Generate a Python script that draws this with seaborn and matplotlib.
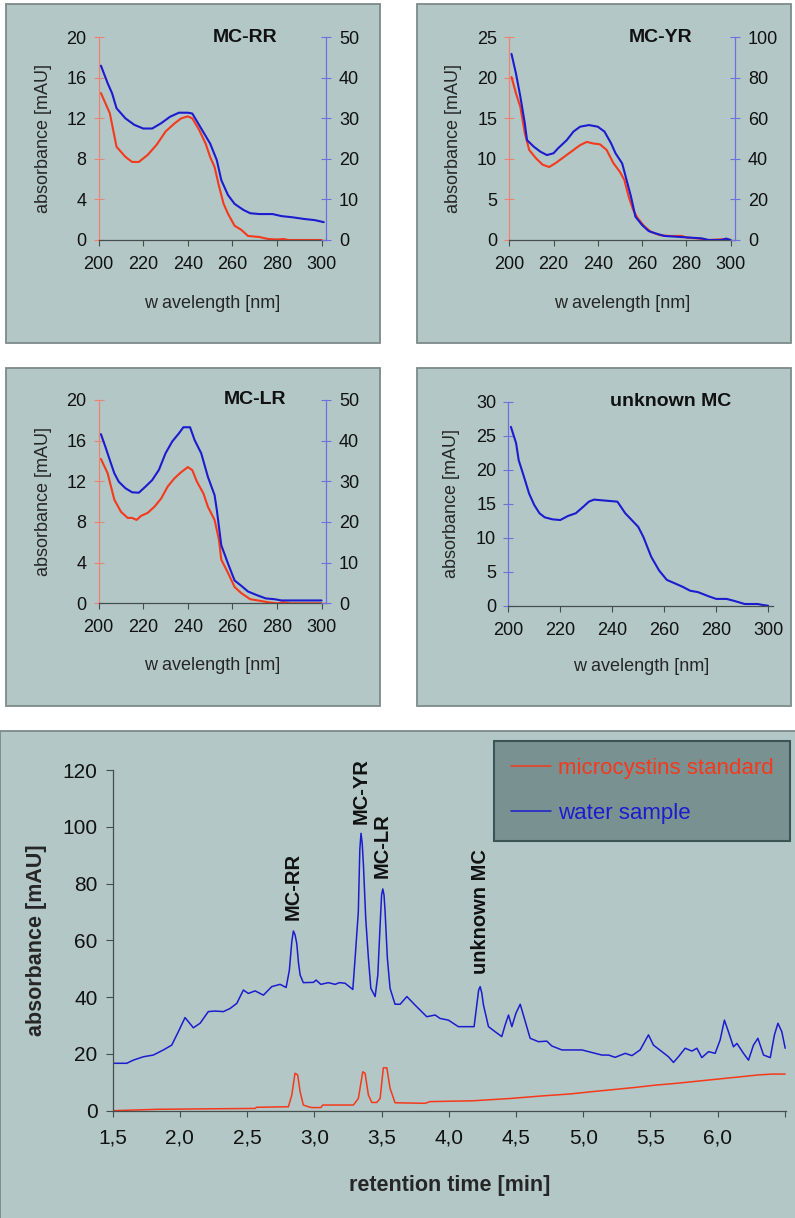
import matplotlib
matplotlib.use("Agg")
import matplotlib.pyplot as plt
from matplotlib.patches import Rectangle
from matplotlib.ticker import FixedLocator, FuncFormatter
import seaborn as sns

# ---- UV spectra (wavelength nm, absorbance mAU) ----
rr_std_wl = [201, 205, 208, 212, 215, 218, 222, 226, 230, 234, 237, 240, 242, 245, 248, 250, 252, 254, 256, 258, 261, 264, 267, 272, 276, 280, 283, 285, 300]
rr_std = [14.5, 12.5, 9.2, 8.2, 7.7, 7.7, 8.4, 9.4, 10.7, 11.5, 12.0, 12.2, 12.0, 10.9, 9.5, 8.2, 7.2, 5.3, 3.6, 2.6, 1.4, 1.0, 0.4, 0.3, 0.1, 0.05, 0.1, 0.0, 0.0]
rr_wat_wl = [201, 204, 206, 208, 212, 216, 220, 224, 228, 232, 236, 240, 242, 246, 250, 253, 255, 258, 261, 265, 268, 272, 278, 282, 287, 292, 297, 301]
rr_wat = [43.0, 38.7, 36.2, 32.5, 30.0, 28.4, 27.5, 27.5, 28.8, 30.4, 31.4, 31.4, 31.2, 27.5, 23.8, 19.7, 14.8, 11.1, 8.9, 7.4, 6.6, 6.4, 6.4, 5.9, 5.6, 5.2, 4.9, 4.4]

yr_std_wl = [201, 203, 205, 207, 209, 212, 215, 218, 221, 225, 229, 232, 235, 238, 241, 244, 247, 250, 252, 254, 256, 258, 261, 264, 268, 272, 278, 280, 285, 290, 297, 300]
yr_std = [20.1, 18.1, 16.4, 13.2, 11.1, 10.1, 9.3, 9.0, 9.5, 10.3, 11.1, 11.7, 12.1, 11.9, 11.8, 11.1, 9.5, 8.4, 7.4, 5.3, 3.7, 2.7, 1.7, 1.0, 0.6, 0.5, 0.5, 0.3, 0.2, 0.0, 0.1, 0.0]
yr_wat_wl = [201, 203, 205, 207, 208, 211, 214, 217, 220, 222, 226, 229, 232, 236, 240, 243, 246, 248, 251, 253, 255, 257, 260, 263, 266, 270, 280, 287, 290, 296, 298, 300]
yr_wat = [91.8, 82.2, 70.7, 57.6, 49.3, 46.1, 43.6, 41.9, 42.8, 45.2, 49.3, 53.5, 55.9, 56.7, 55.9, 53.5, 47.7, 42.8, 37.8, 29.6, 21.4, 11.5, 7.4, 4.4, 3.3, 2.0, 1.3, 0.8, 0.0, 0.0, 0.7, 0.0]

lr_std_wl = [201, 204, 207, 210, 213, 215, 217, 219, 222, 225, 228, 231, 234, 237, 240, 242, 244, 247, 249, 252, 254, 255, 258, 261, 264, 268, 272, 276, 280, 283, 286, 300]
lr_std = [14.2, 12.8, 10.2, 9.0, 8.4, 8.4, 8.2, 8.6, 8.9, 9.5, 10.3, 11.5, 12.3, 12.9, 13.4, 13.1, 12.0, 10.8, 9.5, 8.2, 6.2, 4.3, 3.0, 1.6, 1.0, 0.4, 0.26, 0.1, 0.0, 0.1, 0.0, 0.0]
lr_wat_wl = [201, 203, 205, 207, 209, 212, 215, 218, 221, 224, 227, 230, 233, 236, 238, 241, 243, 246, 249, 252, 253, 255, 258, 261, 264, 267, 271, 275, 279, 282, 300]
lr_wat = [41.6, 38.5, 35.2, 32.0, 29.9, 28.3, 27.3, 27.2, 28.7, 30.3, 32.8, 36.9, 39.8, 41.8, 43.3, 43.3, 40.2, 36.9, 31.1, 26.6, 23.0, 14.3, 9.8, 5.6, 4.3, 2.9, 2.0, 1.2, 1.0, 0.7, 0.7]

unk_wl = [201, 203, 204, 206, 208, 210, 212, 214, 217, 220, 223, 226, 229, 231, 233, 236, 239, 242, 245, 248, 250, 252, 255, 258, 261, 264, 267, 270, 273, 277, 280, 284, 287, 291, 296, 298, 300]
unk = [26.3, 23.9, 21.4, 19.0, 16.5, 14.8, 13.6, 13.0, 12.7, 12.6, 13.2, 13.6, 14.6, 15.3, 15.6, 15.5, 15.4, 15.3, 13.6, 12.4, 11.6, 10.1, 7.2, 5.2, 3.8, 3.3, 2.8, 2.2, 2.0, 1.4, 1.0, 1.0, 0.7, 0.25, 0.25, 0.1, 0.0]

# ---- chromatogram (retention time min, absorbance mAU) ----
water_t = [1.5, 1.604, 1.653, 1.728, 1.802, 1.877, 1.939, 1.988, 2.038, 2.1, 2.15, 2.211, 2.261, 2.323, 2.373, 2.423,
           2.472, 2.509, 2.559, 2.621, 2.683, 2.745, 2.79, 2.814, 2.832, 2.844, 2.856, 2.869, 2.882, 2.894, 2.918,
           2.993, 3.013, 3.048, 3.104, 3.154, 3.186, 3.228, 3.286, 3.303, 3.327, 3.338, 3.347, 3.356, 3.365, 3.382,
           3.402, 3.42, 3.452, 3.472, 3.489, 3.5, 3.509, 3.518, 3.526, 3.543, 3.563, 3.6, 3.638, 3.688, 3.749,
           3.836, 3.898, 3.935, 3.997, 4.071, 4.188, 4.208, 4.222, 4.233, 4.245, 4.258, 4.295, 4.345, 4.394, 4.419,
           4.444, 4.469, 4.499, 4.531, 4.562, 4.605, 4.667, 4.729, 4.766, 4.841, 4.99, 5.089, 5.138, 5.188, 5.237,
           5.312, 5.362, 5.423, 5.485, 5.522, 5.585, 5.634, 5.671, 5.708, 5.758, 5.808, 5.845, 5.882, 5.932, 5.981,
           6.018, 6.05, 6.08, 6.117, 6.143, 6.192, 6.229, 6.266, 6.299, 6.341, 6.391, 6.422, 6.448, 6.477, 6.502]
water = [16.7, 16.7, 17.8, 19.0, 19.6, 21.4, 23.1, 27.8, 32.8, 29.2, 30.8, 34.9, 35.1, 34.9, 36.0, 37.8,
         42.5, 41.3, 42.2, 40.7, 43.7, 44.5, 43.4, 49.5, 59.5, 63.3, 62.0, 58.9, 52.0, 47.8, 45.1,
         45.2, 46.0, 44.5, 45.1, 44.5, 45.1, 44.9, 42.7, 53.7, 70.1, 92.0, 97.7, 94.0, 86.5, 67.7,
         53.7, 43.1, 40.2, 47.8, 65.4, 76.0, 78.1, 76.0, 70.1, 53.7, 43.1, 37.5, 37.5, 40.2, 37.2,
         33.1, 33.7, 32.5, 31.9, 29.6, 29.6, 37.2, 42.5, 43.7, 41.5, 37.2, 29.6, 27.8, 26.1, 30.2,
         33.7, 29.6, 34.3, 37.5, 32.5, 25.5, 24.3, 24.5, 22.8, 21.4, 21.4, 20.2, 19.6, 19.6, 18.8,
         20.2, 19.4, 21.4, 26.7, 23.1, 20.8, 19.0, 17.0, 19.0, 22.0, 21.0, 22.0, 18.7, 20.8, 20.2,
         24.9, 31.9, 27.8, 22.5, 23.7, 20.2, 17.8, 23.1, 25.5, 19.6, 18.7, 26.7, 30.8, 27.8, 22.0]
std_t = [1.5, 1.839, 2.559, 2.57, 2.807, 2.832, 2.856, 2.876, 2.894, 2.918, 2.955, 2.981, 3.048, 3.063, 3.29,
         3.327, 3.36, 3.377, 3.402, 3.427, 3.464, 3.489, 3.513, 3.539, 3.563, 3.6, 3.824, 3.86, 4.183, 4.456,
         4.692, 4.903, 5.064, 5.237, 5.386, 5.535, 5.684, 5.808, 5.932, 6.056, 6.18, 6.303, 6.403, 6.502]
std = [0.0, 0.5, 0.8, 1.2, 1.4, 5.5, 13.2, 12.6, 6.7, 2.0, 1.4, 1.1, 1.1, 2.0, 2.0,
       4.3, 13.7, 13.2, 5.5, 2.9, 2.9, 4.3, 15.1, 15.1, 7.9, 2.8, 2.6, 3.2, 3.5, 4.3,
       5.2, 5.9, 6.7, 7.5, 8.2, 9.0, 9.6, 10.2, 10.8, 11.4, 12.0, 12.6, 12.9, 12.9]

peak_names = ["MC-RR", "MC-YR", "MC-LR", "unknown MC"]
peak_t = [2.845, 3.345, 3.505, 4.232]
peak_y = [67, 101, 82, 48]

RED = "#f5391c"
BLUE = "#1c1ccf"
RED_AX = "#ee8270"
BLUE_AX = "#7070dd"
BG = "#b3c7c7"
DARK = "#454d4d"

sns.set_theme(style="ticks")
plt.rcParams["font.family"] = ["Liberation Sans", "DejaVu Sans"]
plt.rcParams["text.color"] = "#111111"

fig = plt.figure(figsize=(7.95, 12.18), dpi=100)
W, H = 795, 1218


def frame(x0, y0, x1, y1):
    r = Rectangle((x0 / W, 1 - y1 / H), (x1 - x0) / W, (y1 - y0) / H, transform=fig.transFigure,
                  facecolor=BG, edgecolor="#7d8a8a", linewidth=1.3, zorder=-1)
    fig.patches.append(r)


def px_axes(x0, y0, x1, y1):
    ax = fig.add_axes([x0 / W, 1 - y1 / H, (x1 - x0) / W, (y1 - y0) / H])
    ax.set_facecolor("none")
    return ax


frame(6, 4, 380, 343)
frame(417, 4, 791, 343)
frame(6, 368, 380, 706)
frame(417, 368, 791, 706)
frame(0, 731, 796, 1219)


def spectrum(box, wl1, v1, wl2, v2, ylim1, ystep1, ylim2, ystep2, title, tx, lab):
    ax = px_axes(*box)
    twin = wl2 is not None
    col1 = RED if twin else BLUE
    sns.lineplot(x=wl1, y=v1, ax=ax, color=col1, linewidth=1.5, estimator=None, legend=False)
    ax.set_xlim(200, 302)
    ax.set_ylim(0, ylim1)
    ax.set_xticks(range(200, 301, 20))
    ax.set_yticks(range(0, ylim1 + 1, ystep1))
    ax.spines["top"].set_visible(False)
    ax.spines["right"].set_visible(False)
    ax.spines["left"].set_color(RED_AX if twin else BLUE_AX)
    ax.spines["bottom"].set_color(DARK)
    ax.spines["left"].set_linewidth(0.9)
    ax.spines["bottom"].set_linewidth(0.9)
    ax.tick_params(axis="y", direction="inout", length=6.5, width=0.8, colors=RED_AX if twin else BLUE_AX,
                   labelcolor="#111111", labelsize=13, pad=5.5)
    ax.tick_params(axis="x", direction="out", length=4.5, width=0.8, colors=DARK,
                   labelcolor="#111111", labelsize=13, pad=7)
    ax.set_xlabel("w avelength [nm]", fontsize=13)
    ax.set_ylabel("absorbance [mAU]", fontsize=13)
    ax.xaxis.set_label_coords(0.5, lab[1])
    ax.yaxis.set_label_coords(lab[0], 0.5)
    ax.text(tx, ylim1, title, ha="center", va="center", fontsize=14, fontweight="bold")
    if twin:
        ax2 = ax.twinx()
        sns.lineplot(x=wl2, y=v2, ax=ax2, color=BLUE, linewidth=1.5, estimator=None, legend=False)
        ax2.set_ylim(0, ylim2)
        ax2.set_yticks(range(0, ylim2 + 1, ystep2))
        ax2.set_ylabel("")
        for s in ["top", "left", "bottom"]:
            ax2.spines[s].set_visible(False)
        ax2.spines["right"].set_color(BLUE_AX)
        ax2.spines["right"].set_linewidth(0.9)
        ax2.tick_params(axis="y", direction="inout", length=6.5, width=0.8, colors=BLUE_AX,
                        labelcolor="#111111", labelsize=13, pad=6)
    return ax


spectrum((98.7, 37.3, 326, 240), rr_std_wl, rr_std, rr_wat_wl, rr_wat, 20, 4, 50, 10, "MC-RR", 265.5, (-0.205, -0.27))
spectrum((509.3, 37.3, 735, 240), yr_std_wl, yr_std, yr_wat_wl, yr_wat, 25, 5, 100, 20, "MC-YR", 268.3, (-0.21, -0.27))
spectrum((98.7, 400, 326, 603.3), lr_std_wl, lr_std, lr_wat_wl, lr_wat, 20, 4, 50, 10, "MC-LR", 270, (-0.205, -0.263))
spectrum((508.3, 401.7, 773.3, 605.7), unk_wl, unk, None, None, 30, 5, None, None, "unknown MC", 262.6, (-0.182, -0.258))

# ---- chromatogram ----
ax = px_axes(112.7, 770, 786, 1110.7)
sns.lineplot(x=std_t, y=std, ax=ax, color=RED, linewidth=1.1, estimator=None, label="microcystins standard")
sns.lineplot(x=water_t, y=water, ax=ax, color=BLUE, linewidth=1.1, estimator=None, label="water sample")
ax.set_xlim(1.5, 6.508)
ax.set_ylim(0, 120)
ax.set_yticks(range(0, 121, 20))
xt = [1.5, 2.0, 2.5, 3.0, 3.5, 4.0, 4.5, 5.0, 5.5, 6.0, 6.5]
ax.xaxis.set_major_locator(FixedLocator(xt))
ax.xaxis.set_major_formatter(FuncFormatter(lambda v, p: "" if v > 6.4 else f"{v:.1f}".replace(".", ",")))
for s in ["top", "right"]:
    ax.spines[s].set_visible(False)
for s in ["left", "bottom"]:
    ax.spines[s].set_color(DARK)
    ax.spines[s].set_linewidth(0.9)
ax.tick_params(axis="y", direction="out", length=5, width=0.8, colors=DARK, labelcolor="#111111", labelsize=15, pad=6)
ax.tick_params(axis="x", direction="out", length=4, width=0.8, colors=DARK, labelcolor="#111111", labelsize=15, pad=9)
ax.set_xlabel("retention time [min]", fontsize=15.5, fontweight="bold")
ax.set_ylabel("absorbance [mAU]", fontsize=15.5, fontweight="bold")
ax.xaxis.set_label_coords(0.5, -0.189)
ax.yaxis.set_label_coords(-0.098, 0.5)

for name, t, y in zip(peak_names, peak_t, peak_y):
    ax.text(t, y, name, rotation=90, ha="center", va="bottom", fontsize=14.5, fontweight="bold")

leg = ax.legend(loc="upper right", bbox_to_anchor=(790 / W, 1 - 741 / H), bbox_transform=fig.transFigure,
                borderaxespad=0, fancybox=False, framealpha=1, facecolor="#799191", edgecolor="#3d5454",
                fontsize=16, handlelength=1.8, handletextpad=0.3, labelspacing=1.1, borderpad=0.75)
leg.get_frame().set_linewidth(1.5)
for txt, c in zip(leg.get_texts(), [RED, BLUE]):
    txt.set_color(c)

fig.savefig("out.png", dpi=100, facecolor="white")
